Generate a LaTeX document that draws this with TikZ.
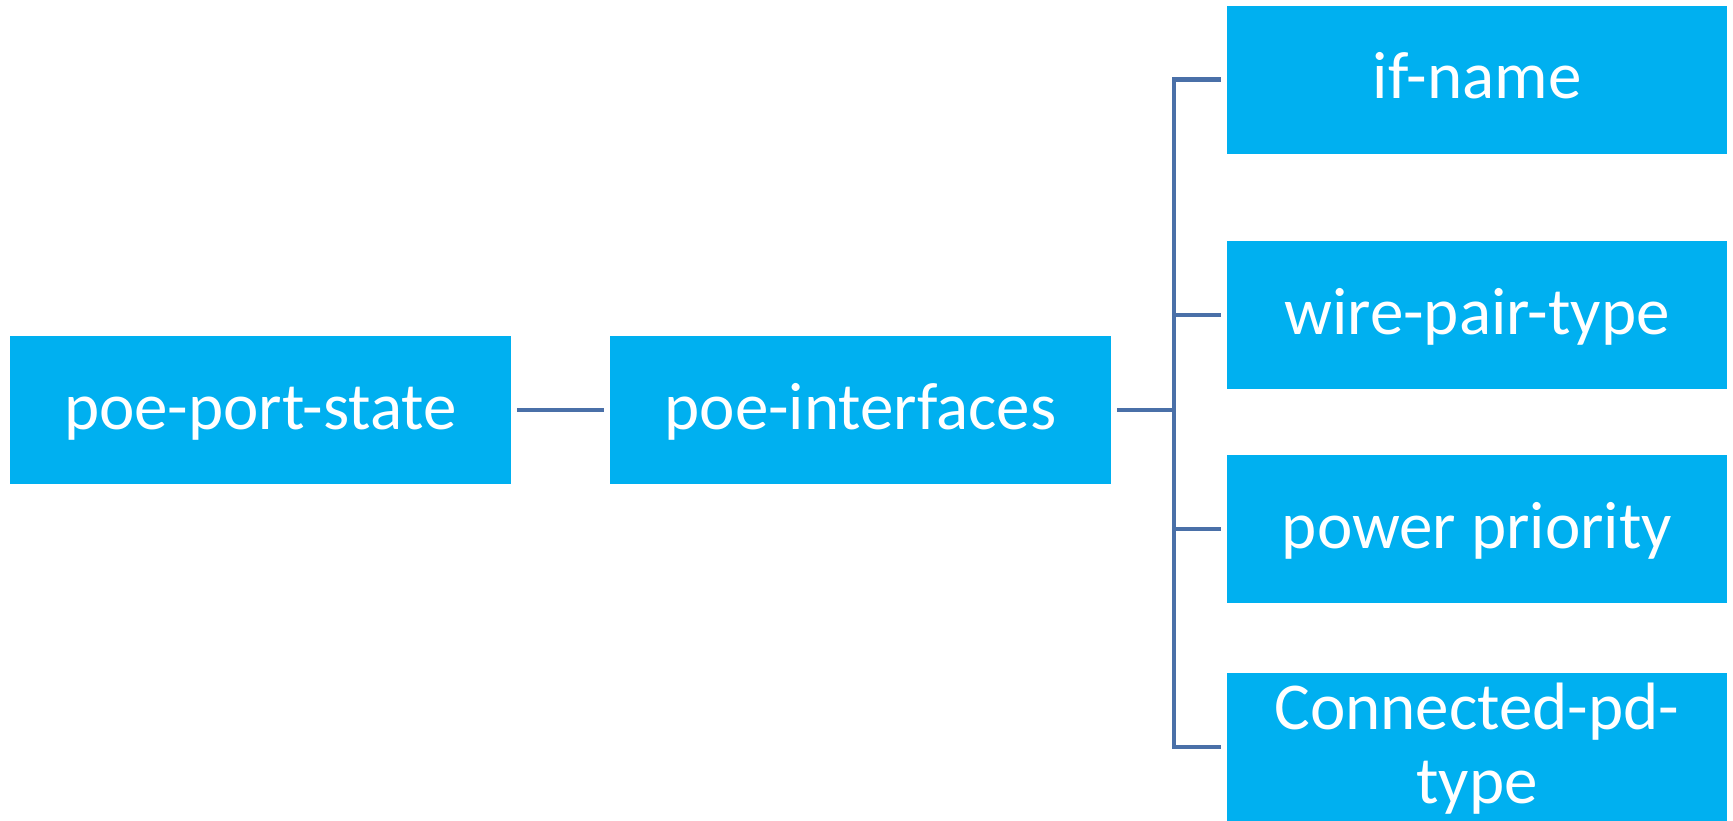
\documentclass[tikz,border=0pt]{standalone}
\usepackage{fontspec}
\usetikzlibrary{calc}
\setmainfont{Carlito}
\definecolor{boxblue}{RGB}{0,176,240}
\definecolor{linkblue}{RGB}{74,112,168}
\begin{document}
\begin{tikzpicture}[x=1pt,y=-1pt,
  item/.style={rectangle, fill=boxblue, draw=none, minimum width=500.5pt,
    minimum height=148pt, inner sep=0pt, text=white,
    font=\fontsize{67}{76}\selectfont, text height=48pt, text depth=10pt},
  itemtext/.style={text=white, font=\fontsize{67}{76}\selectfont, inner sep=0pt, anchor=base},
  link/.style={draw=linkblue, line width=4.8pt}]
\useasboundingbox (0,0) rectangle (1733,820);
\clip (0,0) rectangle (1733,820);

% root and middle level
\node[item] (state) at (260.5,410) {poe-port-state};
\node[item] (ifaces) at (860.5,410) {poe-interfaces};

% leaf column
\node[item] (ifname) at (1477,79.5) {if-name};
\node[item] (wire) at (1477,315) {wire-pair-type};
\node[item] (prio) at (1477,529) {power priority};
\node[item] (pdtype) at (1477,747) {};
\node[itemtext] (pdtypeA) at ($(pdtype.center)+(0,-17.5)$) {Connected-pd-};
\node[itemtext] (pdtypeB) at ($(pdtype.center)+(0,56.5)$) {type};

% connectors
\coordinate (bus) at (1174,410);
\draw[link, shorten <=6pt, shorten >=6pt] (state.east) -- (ifaces.west);
\draw[link, shorten <=6pt] (ifaces.east) -- (bus);
\draw[link, shorten <=6pt, shorten >=6pt] (ifname.west) -- (bus |- ifname.west)
  -- (bus |- pdtype.west) -- (pdtype.west);
\draw[link, shorten >=6pt] (bus |- wire.west) -- (wire.west);
\draw[link, shorten >=6pt] (bus |- prio.west) -- (prio.west);
\end{tikzpicture}
\end{document}
